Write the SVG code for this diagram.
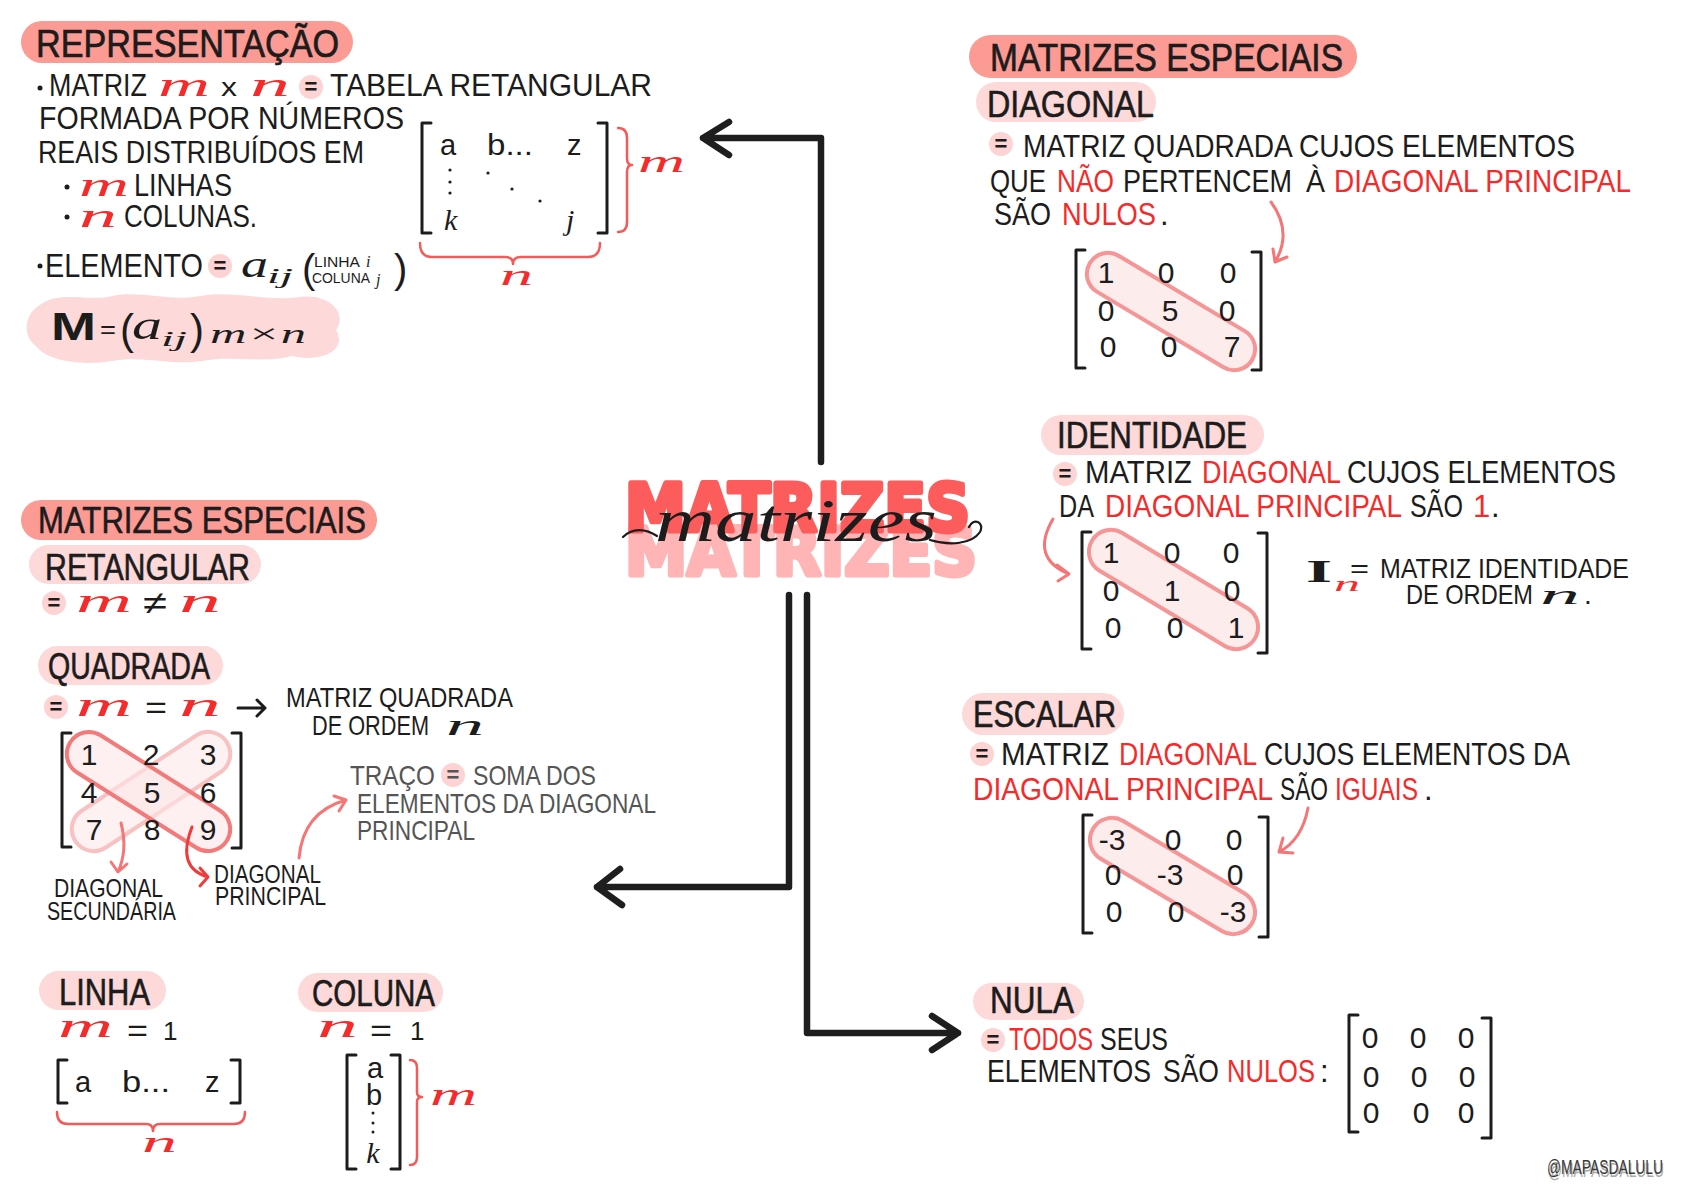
<svg xmlns="http://www.w3.org/2000/svg" width="1684" height="1191" viewBox="0 0 1684 1191">
<defs><style>
text{font-family:"Liberation Sans Narrow","Liberation Sans",Arial,sans-serif;fill:#1c1c1c}
.h{font-size:39px;stroke:#1c1c1c;stroke-width:0.7px}
.s{font-size:37px;stroke:#1c1c1c;stroke-width:0.6px}
.t{font-size:31px}
.m{font-size:28px}
.r{fill:#f52b2b}
.g{fill:#555}
.cv{font-family:"Liberation Serif","DejaVu Serif",serif;font-style:italic}
.n{font-size:30px;text-anchor:middle}
.ph{fill:#fc9a94}
.pl{fill:#fdd9d9}
.eq circle{fill:#fdd3d3}
.eq text{font-size:22px;font-weight:bold;text-anchor:middle}
.br{fill:none;stroke:#1c1c1c;stroke-width:3;stroke-linecap:round;stroke-linejoin:round}
.rb{fill:none;stroke:#f35a5a;stroke-width:2.5;stroke-linecap:round;stroke-linejoin:round}
.cap{fill:#fdecec;stroke:#f59595;stroke-width:4}
.ar{fill:none;stroke:#f47676;stroke-width:3;stroke-linecap:round;stroke-linejoin:round}
.con{fill:none;stroke:#1e1e1e;stroke-width:6.5;stroke-linecap:round;stroke-linejoin:round}
.dot{fill:#1c1c1c}
</style></defs>
<rect width="1684" height="1191" fill="#fff"/>

<g id="connectors">
<path class="con" d="M821 462 V138 H703 M729 122 L703 138 L729 155"/>
<path class="con" d="M789 595 V887 H597 M620 869 L597 887 L622 905"/>
<path class="con" d="M807 595 V1033 H958 M932 1016 L958 1033 L932 1050"/>
</g>

<g id="node-titulo">
<text x="625" y="575" textLength="352" lengthAdjust="spacingAndGlyphs" style="font-family:'DejaVu Sans','Liberation Sans',sans-serif;font-weight:bold;font-size:66px;fill:#ffb5b5;stroke:#ffb5b5;stroke-width:5;stroke-linejoin:round">MATRIZES</text>
<text x="625" y="531" textLength="345" lengthAdjust="spacingAndGlyphs" style="font-family:'DejaVu Sans','Liberation Sans',sans-serif;font-weight:bold;font-size:66px;fill:#fd5c5c;stroke:#fd5c5c;stroke-width:5;stroke-linejoin:round">MATRIZES</text>
<path d="M623 537 C632 528 645 528 657 536 M930 540 C950 546 972 544 980 532 C985 522 973 517 969 527" fill="none" stroke="#1c1c1c" stroke-width="2.2" stroke-linecap="round"/>
<text x="655" y="541" class="cv" font-size="62" textLength="282" lengthAdjust="spacingAndGlyphs">matrizes</text>
</g>

<g id="node-representacao">
<rect class="ph" x="21" y="21" width="332" height="42" rx="21"/>
<text class="h" x="36" y="57" textLength="303" lengthAdjust="spacingAndGlyphs">REPRESENTAÇÃO</text>
<circle class="dot" cx="40" cy="88" r="2.5"/>
<text class="t" x="49" y="96" textLength="98" lengthAdjust="spacingAndGlyphs">MATRIZ</text>
<text class="cv r" x="158" y="96" font-size="34" textLength="52" lengthAdjust="spacingAndGlyphs">m</text>
<text x="221" y="96" font-size="26" textLength="16" lengthAdjust="spacingAndGlyphs">x</text>
<text class="cv r" x="250" y="96" font-size="34" textLength="40" lengthAdjust="spacingAndGlyphs">n</text>
<g class="eq"><circle cx="311" cy="87" r="12"/><text x="311" y="94">=</text></g>
<text class="t" x="330" y="96" textLength="322" lengthAdjust="spacingAndGlyphs">TABELA RETANGULAR</text>
<text class="t" x="39" y="129" textLength="365" lengthAdjust="spacingAndGlyphs">FORMADA  POR  NÚMEROS</text>
<text class="t" x="38" y="163" textLength="326" lengthAdjust="spacingAndGlyphs">REAIS DISTRIBUÍDOS EM</text>
<circle class="dot" cx="67" cy="187" r="2.5"/>
<text class="cv r" x="79" y="196" font-size="34" textLength="50" lengthAdjust="spacingAndGlyphs">m</text>
<text class="t" x="134" y="196" textLength="98" lengthAdjust="spacingAndGlyphs">LINHAS</text>
<circle class="dot" cx="67" cy="217" r="2.5"/>
<text class="cv r" x="79" y="227" font-size="34" textLength="38" lengthAdjust="spacingAndGlyphs">n</text>
<text class="t" x="124" y="227" textLength="133" lengthAdjust="spacingAndGlyphs">COLUNAS.</text>
<path class="br" d="M431 123 H422 V233 H431 M598 123 H607 V233 H598"/>
<text x="440" y="155" font-size="29">a</text>
<text x="487" y="155" font-size="29" textLength="46" lengthAdjust="spacingAndGlyphs">b...</text>
<text x="567" y="155" font-size="29">z</text>
<circle class="dot" cx="450" cy="170" r="1.6"/><circle class="dot" cx="450" cy="182" r="1.6"/><circle class="dot" cx="450" cy="193" r="1.6"/>
<circle class="dot" cx="488" cy="173" r="1.6"/><circle class="dot" cx="512" cy="189" r="1.6"/><circle class="dot" cx="540" cy="201" r="1.6"/>
<text class="cv" x="444" y="230" font-size="30">k</text>
<text class="cv" x="566" y="230" font-size="30">j</text>
<path class="rb" d="M618 128 Q627 128 627 138 V158 Q627 165 632 165 Q627 165 627 172 V222 Q627 232 618 232"/>
<text class="cv r" x="638" y="172" font-size="32" textLength="47" lengthAdjust="spacingAndGlyphs">m</text>
<path class="rb" d="M420 243 Q420 257 432 257 H505 Q513 257 513 264 Q513 257 521 257 H588 Q600 257 600 243"/>
<text class="cv r" x="500" y="285" font-size="30" textLength="33" lengthAdjust="spacingAndGlyphs">n</text>
<circle class="dot" cx="40" cy="266" r="2.5"/>
<text x="45" y="277" font-size="34" textLength="158" lengthAdjust="spacingAndGlyphs">ELEMENTO</text>
<g class="eq"><circle cx="220" cy="266" r="12"/><text x="220" y="273">=</text></g>
<text class="cv" x="241" y="277" font-size="38" textLength="27" lengthAdjust="spacingAndGlyphs">a</text>
<text class="cv" x="267" y="283" font-size="22" textLength="26" lengthAdjust="spacingAndGlyphs">ij</text>
<text x="302" y="283" font-size="40" fill="#333">(</text>
<text x="314" y="267" font-size="15" fill="#333" textLength="46" lengthAdjust="spacingAndGlyphs">LINHA</text>
<text class="cv" x="366" y="267" font-size="16" fill="#333">i</text>
<text x="312" y="283" font-size="15" fill="#333" textLength="58" lengthAdjust="spacingAndGlyphs">COLUNA</text>
<text class="cv" x="376" y="285" font-size="16" fill="#333">j</text>
<text x="394" y="283" font-size="40" fill="#333">)</text>
<path class="pl" d="M40 305 C60 290 90 302 112 296 C140 290 170 302 200 296 C232 290 268 302 300 297 C330 293 348 314 336 330 C348 350 322 363 292 356 C262 364 232 355 202 361 C172 366 142 355 112 361 C82 366 47 361 36 346 C22 336 24 314 40 305 Z"/>
<text x="51" y="340" font-size="38" font-weight="bold" textLength="45" lengthAdjust="spacingAndGlyphs">M</text>
<text x="100" y="338" font-size="26" textLength="16" lengthAdjust="spacingAndGlyphs">=</text>
<text x="120" y="344" font-size="42">(</text>
<text class="cv" x="132" y="339" font-size="40" textLength="30" lengthAdjust="spacingAndGlyphs">a</text>
<text class="cv" x="161" y="346" font-size="22" textLength="26" lengthAdjust="spacingAndGlyphs">ij</text>
<text x="190" y="344" font-size="42">)</text>
<text class="cv" x="210" y="343" font-size="28" textLength="96" lengthAdjust="spacingAndGlyphs">m×n</text>
</g>

<g id="node-especiais-esquerda">
<rect class="ph" x="21" y="500" width="356" height="40" rx="20"/>
<text class="s" x="38" y="533" textLength="328" lengthAdjust="spacingAndGlyphs">MATRIZES ESPECIAIS</text>
</g>

<g id="node-retangular">
<rect class="pl" x="29" y="545" width="232" height="39" rx="19.5"/>
<text class="s" x="45" y="580" textLength="205" lengthAdjust="spacingAndGlyphs">RETANGULAR</text>
<g class="eq"><circle cx="54" cy="603" r="12"/><text x="54" y="610">=</text></g>
<text class="cv r" x="76" y="612" font-size="34" textLength="56" lengthAdjust="spacingAndGlyphs">m</text>
<text x="143" y="614" font-size="32" textLength="24" lengthAdjust="spacingAndGlyphs">≠</text>
<text class="cv r" x="179" y="612" font-size="34" textLength="42" lengthAdjust="spacingAndGlyphs">n</text>
</g>

<g id="node-quadrada">
<rect class="pl" x="38" y="646" width="185" height="39" rx="19.5"/>
<text class="s" x="48" y="679" textLength="162" lengthAdjust="spacingAndGlyphs">QUADRADA</text>
<g class="eq"><circle cx="56" cy="707" r="12"/><text x="56" y="714">=</text></g>
<text class="cv r" x="76" y="716" font-size="34" textLength="56" lengthAdjust="spacingAndGlyphs">m</text>
<text x="145" y="718" font-size="32" textLength="22" lengthAdjust="spacingAndGlyphs">=</text>
<text class="cv r" x="179" y="716" font-size="34" textLength="42" lengthAdjust="spacingAndGlyphs">n</text>
<path class="br" d="M238 708 H265 M257 700 L265 708 L257 716"/>
<text class="m" x="286" y="707" textLength="227" lengthAdjust="spacingAndGlyphs">MATRIZ QUADRADA</text>
<text class="m" x="312" y="735" textLength="117" lengthAdjust="spacingAndGlyphs">DE ORDEM</text>
<text class="cv" x="446" y="735" font-size="30" textLength="38" lengthAdjust="spacingAndGlyphs">n</text>
<rect class="cap" x="60.5" y="769.5" width="181" height="44" rx="22" transform="rotate(-33.3 151 791.5)" style="stroke:#f9c2c2;fill:#fdeeee;fill-opacity:0.8"/>
<rect class="cap" x="56" y="769.5" width="185" height="44" rx="22" transform="rotate(32.2 148.5 791.5)" style="stroke:#f27a7a;fill:#fde6e6;fill-opacity:0.6"/>
<path class="br" d="M71 733 H62 V847 H71 M232 733 H241 V848 H232"/>
<text class="n" x="89" y="765">1</text><text class="n" x="151" y="765">2</text><text class="n" x="208" y="765">3</text>
<text class="n" x="89" y="803">4</text><text class="n" x="152" y="803">5</text><text class="n" x="208" y="803">6</text>
<text class="n" x="94" y="840">7</text><text class="n" x="152" y="840">8</text><text class="n" x="208" y="840">9</text>
<path class="ar" d="M121 823 Q128 850 118 872 M111 862 L118 872 L127 864"/>
<path class="ar" style="stroke:#ee3c3c" d="M192 827 Q176 868 208 877 M200 868 L208 877 L200 886"/>
<text x="54" y="897" font-size="26" textLength="109" lengthAdjust="spacingAndGlyphs">DIAGONAL</text>
<text x="47" y="920" font-size="26" textLength="129" lengthAdjust="spacingAndGlyphs">SECUNDÁRIA</text>
<text x="214" y="883" font-size="26" textLength="107" lengthAdjust="spacingAndGlyphs">DIAGONAL</text>
<text x="215" y="905" font-size="26" textLength="111" lengthAdjust="spacingAndGlyphs">PRINCIPAL</text>
<path class="ar" d="M299 858 Q303 812 346 800 M334 796 L346 800 L339 811"/>
<text class="m g" x="350" y="785" textLength="85" lengthAdjust="spacingAndGlyphs">TRAÇO</text>
<g class="eq"><circle cx="453" cy="775" r="12"/><text x="453" y="782" style="fill:#555">=</text></g>
<text class="m g" x="473" y="785" textLength="123" lengthAdjust="spacingAndGlyphs">SOMA  DOS</text>
<text class="m g" x="357" y="813" textLength="299" lengthAdjust="spacingAndGlyphs">ELEMENTOS DA DIAGONAL</text>
<text class="m g" x="357" y="840" textLength="118" lengthAdjust="spacingAndGlyphs">PRINCIPAL</text>
</g>

<g id="node-linha">
<rect class="pl" x="39" y="971" width="127" height="39" rx="19.5"/>
<text class="s" x="59" y="1005" textLength="91" lengthAdjust="spacingAndGlyphs">LINHA</text>
<text class="cv r" x="58" y="1037" font-size="34" textLength="55" lengthAdjust="spacingAndGlyphs">m</text>
<text x="127" y="1041" font-size="32" textLength="21" lengthAdjust="spacingAndGlyphs">=</text>
<text x="163" y="1040" font-size="26">1</text>
<path class="br" d="M67 1060 H58 V1103 H67 M231 1060 H240 V1103 H231"/>
<text x="75" y="1092" font-size="29">a</text>
<text x="122" y="1092" font-size="29" textLength="48" lengthAdjust="spacingAndGlyphs">b...</text>
<text x="205" y="1092" font-size="29">z</text>
<path class="rb" d="M57 1112 Q57 1124 68 1124 H146 Q153 1124 153 1131 Q153 1124 160 1124 H234 Q245 1124 245 1112"/>
<text class="cv r" x="142" y="1152" font-size="30" textLength="35" lengthAdjust="spacingAndGlyphs">n</text>
</g>

<g id="node-coluna">
<rect class="pl" x="298" y="973" width="145" height="39" rx="19.5"/>
<text class="s" x="312" y="1006" textLength="123" lengthAdjust="spacingAndGlyphs">COLUNA</text>
<text class="cv r" x="317" y="1037" font-size="34" textLength="41" lengthAdjust="spacingAndGlyphs">n</text>
<text x="370" y="1041" font-size="32" textLength="22" lengthAdjust="spacingAndGlyphs">=</text>
<text x="410" y="1040" font-size="26">1</text>
<path class="br" d="M356 1055 H347 V1169 H356 M391 1055 H400 V1169 H391"/>
<text x="375" y="1078" font-size="29" text-anchor="middle">a</text>
<text x="374" y="1105" font-size="29" text-anchor="middle">b</text>
<circle class="dot" cx="373" cy="1113" r="1.5"/><circle class="dot" cx="373" cy="1123" r="1.5"/><circle class="dot" cx="373" cy="1132" r="1.5"/>
<text class="cv" x="373" y="1163" font-size="30" text-anchor="middle">k</text>
<path class="rb" d="M410 1060 Q417 1060 417 1068 V1092 Q417 1097 422 1097 Q417 1097 417 1102 V1157 Q417 1165 410 1165"/>
<text class="cv r" x="430" y="1105" font-size="32" textLength="47" lengthAdjust="spacingAndGlyphs">m</text>
</g>

<g id="node-especiais-direita">
<rect class="ph" x="969" y="35" width="388" height="43" rx="21.5"/>
<text class="h" x="990" y="71" textLength="353" lengthAdjust="spacingAndGlyphs">MATRIZES ESPECIAIS</text>
</g>

<g id="node-diagonal">
<rect class="pl" x="976" y="82" width="180" height="40" rx="20"/>
<text class="s" x="987" y="117" textLength="167" lengthAdjust="spacingAndGlyphs">DIAGONAL</text>
<g class="eq"><circle cx="1001" cy="144" r="12"/><text x="1001" y="151">=</text></g>
<text class="t" x="1023" y="157" textLength="552" lengthAdjust="spacingAndGlyphs">MATRIZ QUADRADA CUJOS ELEMENTOS</text>
<text class="t" x="990" y="192" textLength="56" lengthAdjust="spacingAndGlyphs">QUE</text>
<text class="t r" x="1057" y="192" textLength="57" lengthAdjust="spacingAndGlyphs">NÃO</text>
<text class="t" x="1123" y="192" textLength="169" lengthAdjust="spacingAndGlyphs">PERTENCEM</text>
<text class="t" x="1306" y="192" textLength="19" lengthAdjust="spacingAndGlyphs">À</text>
<text class="t r" x="1334" y="192" textLength="297" lengthAdjust="spacingAndGlyphs">DIAGONAL PRINCIPAL</text>
<text class="t" x="994" y="225" textLength="57" lengthAdjust="spacingAndGlyphs">SÃO</text>
<text class="t r" x="1062" y="225" textLength="94" lengthAdjust="spacingAndGlyphs">NULOS</text>
<text class="t" x="1160" y="225">.</text>
<path class="ar" d="M1271 202 Q1293 232 1275 262 M1273 249 L1275 262 L1287 257"/>
<rect class="cap" x="1076.5" y="290.5" width="189" height="42" rx="21" transform="rotate(30.8 1171 311.5)"/>
<path class="br" d="M1085 250 H1076 V368 H1085 M1252 252 H1261 V370 H1252"/>
<text class="n" x="1106" y="283">1</text><text class="n" x="1166" y="283">0</text><text class="n" x="1228" y="283">0</text>
<text class="n" x="1106" y="321">0</text><text class="n" x="1170" y="321">5</text><text class="n" x="1227" y="321">0</text>
<text class="n" x="1108" y="357">0</text><text class="n" x="1169" y="357">0</text><text class="n" x="1232" y="357">7</text>
</g>

<g id="node-identidade">
<rect class="pl" x="1041" y="415" width="223" height="40" rx="20"/>
<text class="s" x="1057" y="448" textLength="190" lengthAdjust="spacingAndGlyphs">IDENTIDADE</text>
<g class="eq"><circle cx="1065" cy="474" r="12"/><text x="1065" y="481">=</text></g>
<text class="t" x="1085" y="483" textLength="107" lengthAdjust="spacingAndGlyphs">MATRIZ</text>
<text class="t r" x="1202" y="483" textLength="139" lengthAdjust="spacingAndGlyphs">DIAGONAL</text>
<text class="t" x="1347" y="483" textLength="269" lengthAdjust="spacingAndGlyphs">CUJOS ELEMENTOS</text>
<text class="t" x="1059" y="517" textLength="35" lengthAdjust="spacingAndGlyphs">DA</text>
<text class="t r" x="1105" y="517" textLength="297" lengthAdjust="spacingAndGlyphs">DIAGONAL PRINCIPAL</text>
<text class="t" x="1410" y="517" textLength="53" lengthAdjust="spacingAndGlyphs">SÃO</text>
<text class="t r" x="1473" y="517">1</text>
<text class="t" x="1491" y="517">.</text>
<path class="ar" d="M1053 519 Q1030 558 1069 574 M1057 565 L1069 574 L1058 581"/>
<rect class="cap" x="1078.5" y="567.5" width="190" height="44" rx="22" transform="rotate(31 1173.5 589.5)"/>
<path class="br" d="M1091 532 H1082 V649 H1091 M1258 533 H1267 V653 H1258"/>
<text class="n" x="1111" y="563">1</text><text class="n" x="1172" y="563">0</text><text class="n" x="1231" y="563">0</text>
<text class="n" x="1111" y="601">0</text><text class="n" x="1172" y="601">1</text><text class="n" x="1232" y="601">0</text>
<text class="n" x="1113" y="638">0</text><text class="n" x="1175" y="638">0</text><text class="n" x="1236" y="638">1</text>
<text x="1306" y="582" font-size="32" font-weight="bold" textLength="26" lengthAdjust="spacingAndGlyphs" style="font-family:'Liberation Serif',serif">I</text>
<text class="cv r" x="1334" y="591" font-size="22" textLength="26" lengthAdjust="spacingAndGlyphs">n</text>
<text x="1350" y="577" font-size="26" textLength="19" lengthAdjust="spacingAndGlyphs">=</text>
<text class="m" x="1380" y="578" textLength="249" lengthAdjust="spacingAndGlyphs">MATRIZ IDENTIDADE</text>
<text class="m" x="1406" y="604" textLength="127" lengthAdjust="spacingAndGlyphs">DE ORDEM</text>
<text class="cv" x="1540" y="604" font-size="28" textLength="40" lengthAdjust="spacingAndGlyphs">n</text>
<text class="m" x="1584" y="604">.</text>
</g>

<g id="node-escalar">
<rect class="pl" x="962" y="693" width="162" height="42" rx="21"/>
<text class="s" x="973" y="727" textLength="143" lengthAdjust="spacingAndGlyphs">ESCALAR</text>
<g class="eq"><circle cx="982" cy="754" r="12"/><text x="982" y="761">=</text></g>
<text class="t" x="1001" y="765" textLength="108" lengthAdjust="spacingAndGlyphs">MATRIZ</text>
<text class="t r" x="1119" y="765" textLength="138" lengthAdjust="spacingAndGlyphs">DIAGONAL</text>
<text class="t" x="1264" y="765" textLength="306" lengthAdjust="spacingAndGlyphs">CUJOS ELEMENTOS DA</text>
<text class="t r" x="973" y="800" textLength="300" lengthAdjust="spacingAndGlyphs">DIAGONAL PRINCIPAL</text>
<text class="t" x="1280" y="800" textLength="48" lengthAdjust="spacingAndGlyphs">SÃO</text>
<text class="t r" x="1335" y="800" textLength="83" lengthAdjust="spacingAndGlyphs">IGUAIS</text>
<text class="t" x="1424" y="800">.</text>
<path class="ar" d="M1308 808 Q1302 840 1279 852 M1283 838 L1279 852 L1293 853"/>
<rect class="cap" x="1080" y="854" width="185" height="44" rx="22" transform="rotate(30.8 1172.5 876)"/>
<path class="br" d="M1092 815 H1083 V933 H1092 M1259 817 H1268 V937 H1259"/>
<text class="n" x="1112" y="850">-3</text><text class="n" x="1173" y="850">0</text><text class="n" x="1234" y="850">0</text>
<text class="n" x="1113" y="885">0</text><text class="n" x="1170" y="885">-3</text><text class="n" x="1235" y="885">0</text>
<text class="n" x="1114" y="922">0</text><text class="n" x="1176" y="922">0</text><text class="n" x="1233" y="922">-3</text>
</g>

<g id="node-nula">
<rect class="pl" x="973" y="983" width="111" height="37" rx="18.5"/>
<text class="s" x="990" y="1013" textLength="84" lengthAdjust="spacingAndGlyphs">NULA</text>
<g class="eq"><circle cx="993" cy="1040" r="12"/><text x="993" y="1047">=</text></g>
<text class="t r" x="1009" y="1050" textLength="84" lengthAdjust="spacingAndGlyphs">TODOS</text>
<text class="t" x="1100" y="1050" textLength="68" lengthAdjust="spacingAndGlyphs">SEUS</text>
<text class="t" x="987" y="1082" textLength="164" lengthAdjust="spacingAndGlyphs">ELEMENTOS</text>
<text class="t" x="1163" y="1082" textLength="56" lengthAdjust="spacingAndGlyphs">SÃO</text>
<text class="t r" x="1227" y="1082" textLength="88" lengthAdjust="spacingAndGlyphs">NULOS</text>
<text class="t" x="1320" y="1082">:</text>
<path class="br" d="M1358 1015 H1349 V1132 H1358 M1482 1018 H1491 V1138 H1482"/>
<text class="n" x="1370" y="1048">0</text><text class="n" x="1418" y="1048">0</text><text class="n" x="1466" y="1048">0</text>
<text class="n" x="1371" y="1087">0</text><text class="n" x="1419" y="1087">0</text><text class="n" x="1467" y="1087">0</text>
<text class="n" x="1371" y="1123">0</text><text class="n" x="1421" y="1123">0</text><text class="n" x="1466" y="1123">0</text>
</g>

<g id="node-assinatura">
<text x="1548" y="1177" font-size="21" textLength="116" lengthAdjust="spacingAndGlyphs" style="fill:#aaa">@MAPASDALULU</text>
<text x="1547" y="1174" font-size="21" textLength="116" lengthAdjust="spacingAndGlyphs" style="fill:#3a3a3a">@MAPASDALULU</text>
</g>
</svg>
